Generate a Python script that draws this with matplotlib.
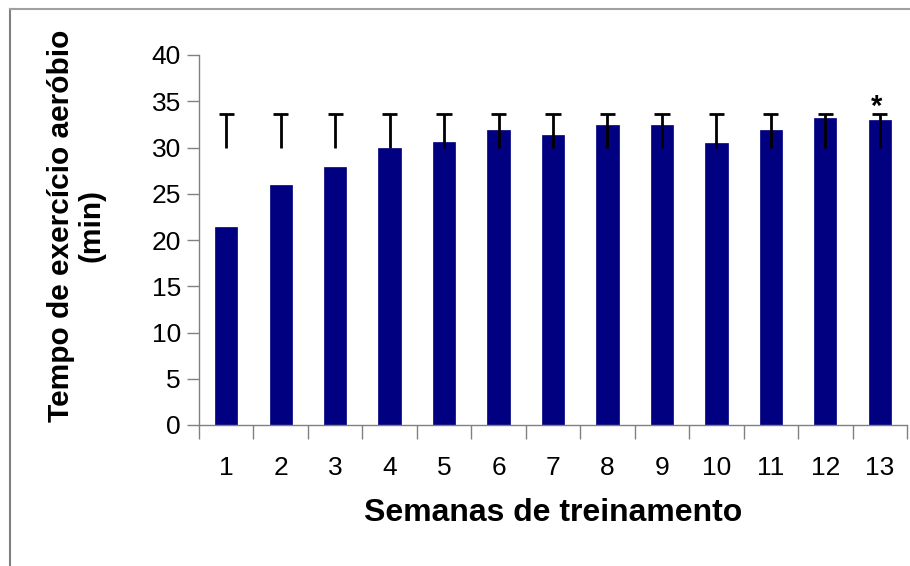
import matplotlib
matplotlib.use("Agg")
import matplotlib.pyplot as plt
from matplotlib.lines import Line2D
import numpy as np

weeks = ["1", "2", "3", "4", "5", "6", "7", "8", "9", "10", "11", "12", "13"]
tempo = [21.4, 25.9, 27.85, 30.0, 30.6, 31.9, 31.4, 32.4, 32.4, 30.5, 31.9, 33.15, 32.95]
err_low = [30.0] * 13
err_high = [33.6] * 13
yticks = [0, 5, 10, 15, 20, 25, 30, 35, 40]

plt.rcParams['font.family'] = ['Liberation Sans', 'DejaVu Sans']

fig = plt.figure(figsize=(9.10, 5.66), dpi=100)
ax = fig.add_axes([199/910, 1-425/566, 708/910, 370/566])

x = np.arange(len(weeks))
ax.bar(x, tempo, width=0.41, color='#000080', edgecolor='#000080', linewidth=0.5, zorder=2)
for xi, lo, hi in zip(x, err_low, err_high):
    ax.vlines(xi, lo, hi, color='black', linewidth=2, zorder=3)
    ax.hlines(hi, xi-0.14, xi+0.14, color='black', linewidth=2, zorder=3)

ax.text(x[-1] - 0.05, err_high[-1] - 0.7, '*', ha='center', va='bottom', fontsize=21, fontweight='bold')

ax.set_xlim(-0.5, len(weeks)-0.5)
ax.set_ylim(0, 40)
ax.set_yticks(yticks)
ax.set_xticks(np.arange(len(weeks)+1) - 0.5, minor=False)
ax.set_xticklabels([])
ax.set_xticks(x, minor=True)
ax.set_xticklabels(weeks, minor=True)

ax.tick_params(axis='x', which='major', direction='out', length=10, width=1, color='#808080')
ax.tick_params(axis='x', which='minor', length=0, pad=22, labelsize=19)
ax.tick_params(axis='y', direction='out', length=9, width=1, color='#808080', labelsize=19, pad=4)

for s in ['top', 'right']:
    ax.spines[s].set_visible(False)
for s in ['left', 'bottom']:
    ax.spines[s].set_color('#808080')
    ax.spines[s].set_linewidth(1)

ax.set_xlabel('Semanas de treinamento', fontsize=23, fontweight='bold', labelpad=13)
fig.text(76/910, 1-226/566, 'Tempo de exercício aeróbio\n(min)', rotation=90, ha='center', va='center',
         fontsize=21.5, fontweight='bold', linespacing=1.1)

fig.add_artist(Line2D([10/910, 10/910], [0, 1-9/566], transform=fig.transFigure, color='#808080', linewidth=1.5))
fig.add_artist(Line2D([10/910, 1], [1-9/566, 1-9/566], transform=fig.transFigure, color='#a0a0a0', linewidth=1.5))

fig.savefig('out.png', dpi=100)
